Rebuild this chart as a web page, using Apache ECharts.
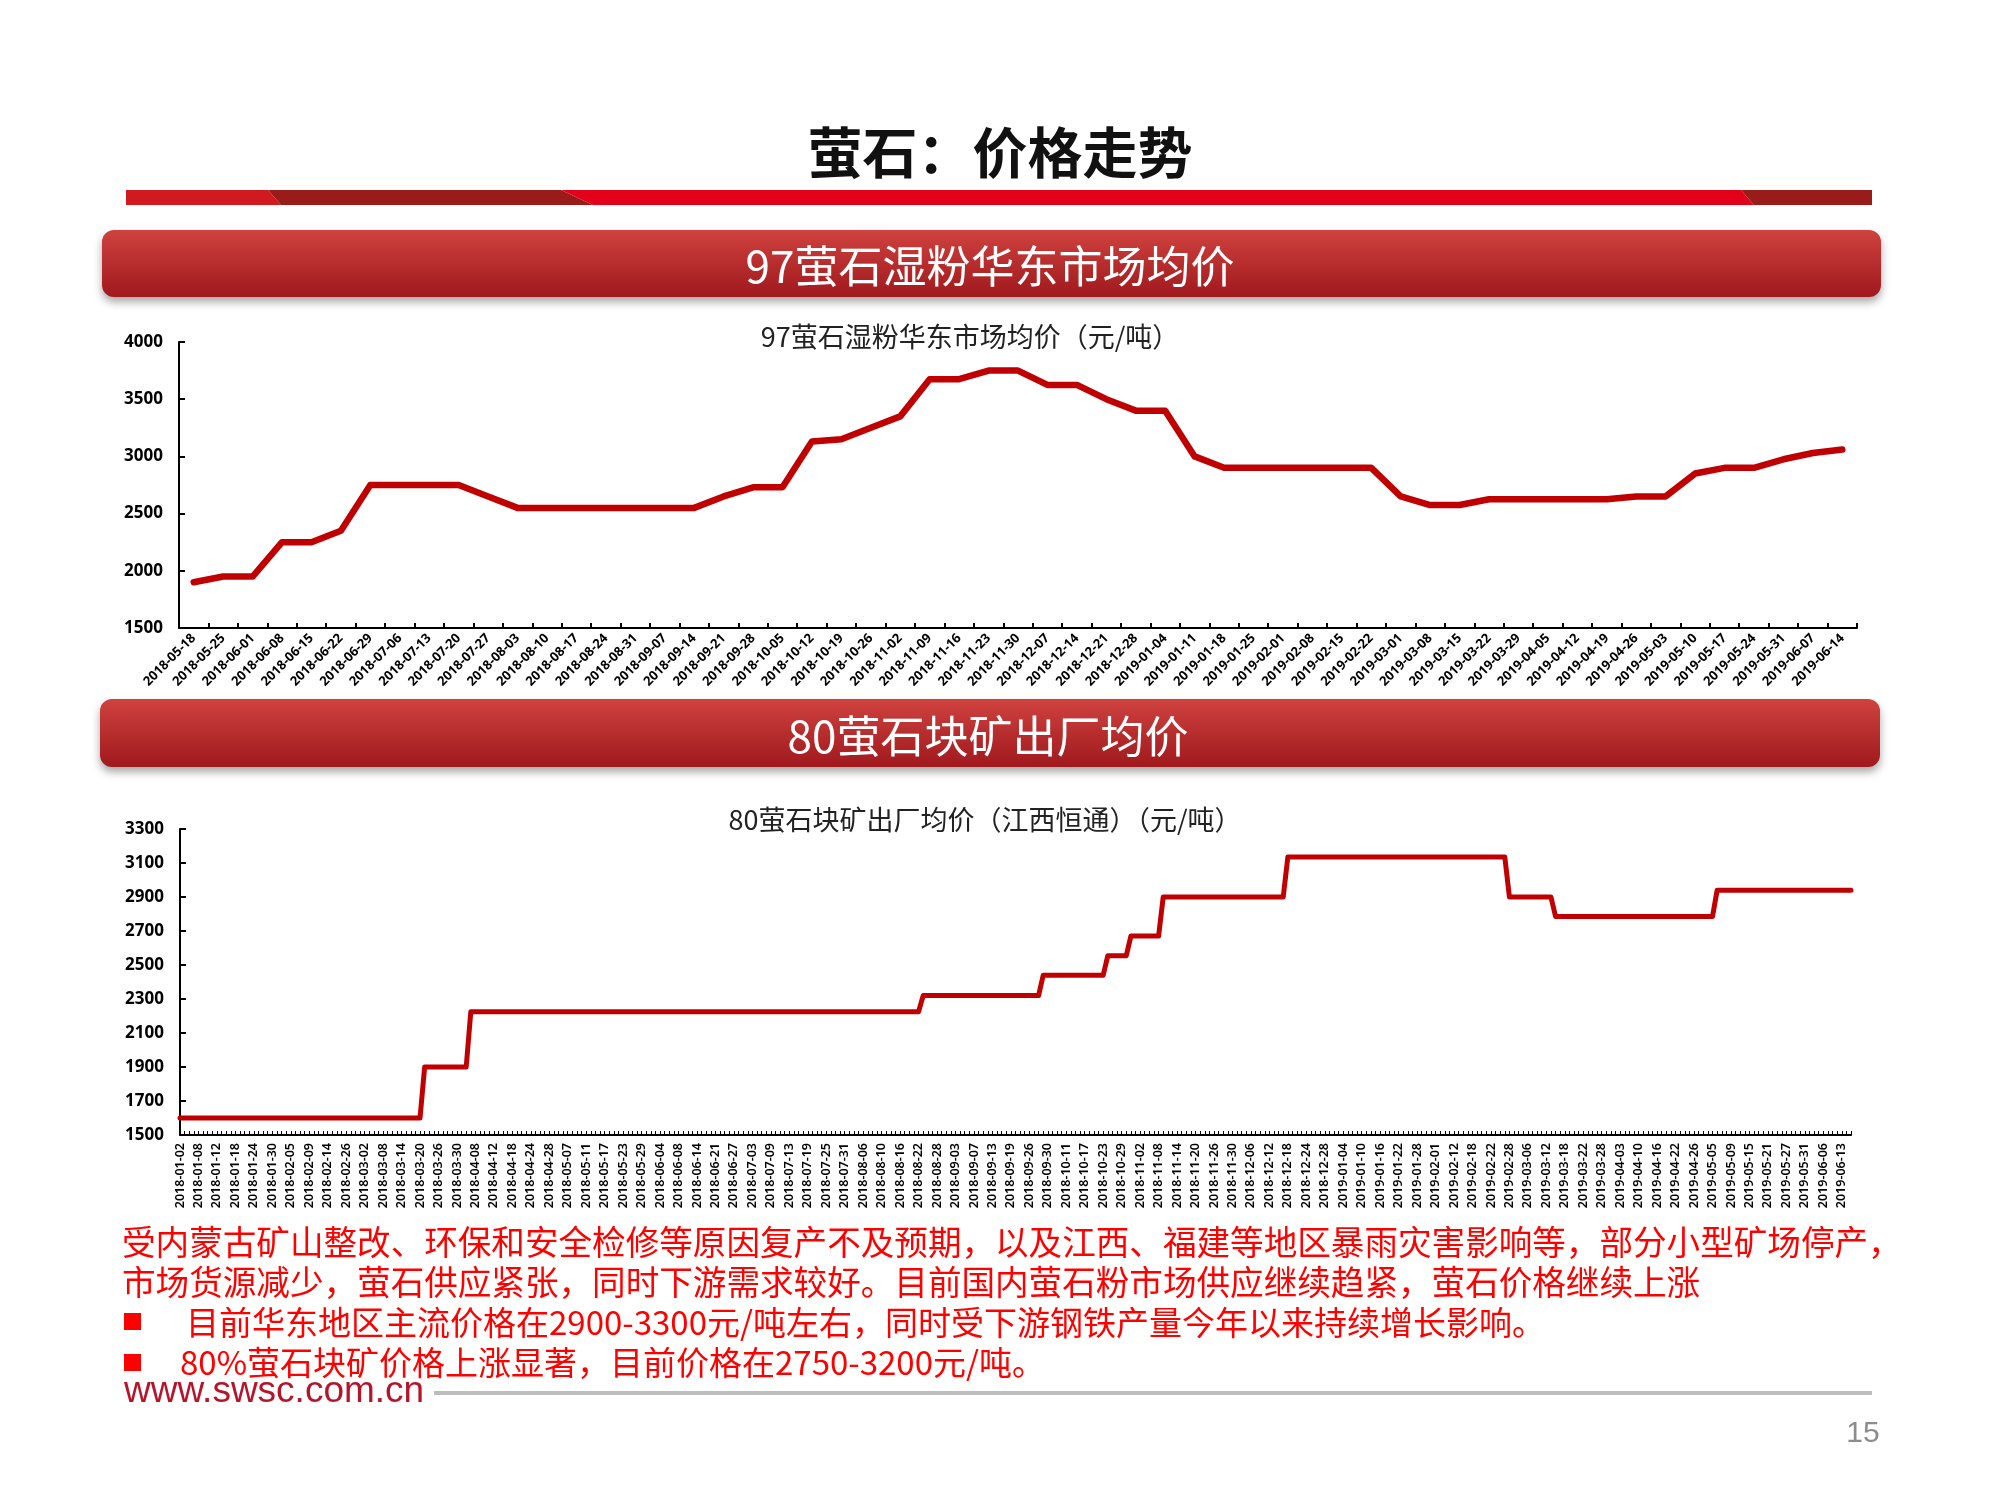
<!DOCTYPE html>
<html>
<head>
<meta charset="utf-8">
<script src="https://cdn.jsdelivr.net/npm/echarts@6/dist/echarts.min.js"></script>
<style>
html,body{margin:0;padding:0;background:#fff;}
#c{width:2000px;height:1500px;}
</style>
</head>
<body>
<div id="c"></div>
<script>
// ---------- Chart 1: 97萤石湿粉华东市场均价 (weekly) ----------
const wetPowderDates = [
  '2018-05-18','2018-05-25','2018-06-01','2018-06-08','2018-06-15','2018-06-22','2018-06-29',
  '2018-07-06','2018-07-13','2018-07-20','2018-07-27','2018-08-03','2018-08-10','2018-08-17',
  '2018-08-24','2018-08-31','2018-09-07','2018-09-14','2018-09-21','2018-09-28','2018-10-05',
  '2018-10-12','2018-10-19','2018-10-26','2018-11-02','2018-11-09','2018-11-16','2018-11-23',
  '2018-11-30','2018-12-07','2018-12-14','2018-12-21','2018-12-28','2019-01-04','2019-01-11',
  '2019-01-18','2019-01-25','2019-02-01','2019-02-08','2019-02-15','2019-02-22','2019-03-01',
  '2019-03-08','2019-03-15','2019-03-22','2019-03-29','2019-04-05','2019-04-12','2019-04-19',
  '2019-04-26','2019-05-03','2019-05-10','2019-05-17','2019-05-24','2019-05-31','2019-06-07',
  '2019-06-14'
];
const wetPowderPrices = [
  1900,1950,1950,2250,2250,2350,2750,
  2750,2750,2750,2650,2550,2550,2550,
  2550,2550,2550,2550,2650,2730,2730,
  3130,3150,3250,3350,3675,3675,3750,
  3750,3625,3625,3500,3400,3400,3000,
  2900,2900,2900,2900,2900,2900,2650,
  2575,2575,2625,2625,2625,2625,2625,
  2650,2650,2850,2900,2900,2975,3030,
  3060
];
const wetAxis = {min:1500, max:4000, interval:500};

// ---------- Chart 2: 80萤石块矿出厂均价 (working days) ----------
const workdays2018 = [
  ['01','02 03 04 05 08 09 10 11 12 15 16 17 18 19 22 23 24 25 26 29 30 31'],
  ['02','01 02 05 06 07 08 09 11 12 13 14 22 23 24 26 27 28'],
  ['03','01 02 05 06 07 08 09 12 13 14 15 16 19 20 21 22 23 26 27 28 29 30'],
  ['04','02 03 04 08 09 10 11 12 13 16 17 18 19 20 23 24 25 26 27 28'],
  ['05','02 03 04 07 08 09 10 11 14 15 16 17 18 21 22 23 24 25 28 29 30 31'],
  ['06','01 04 05 06 07 08 11 12 13 14 15 19 20 21 22 25 26 27 28 29'],
  ['07','02 03 04 05 06 09 10 11 12 13 16 17 18 19 20 23 24 25 26 27 30 31'],
  ['08','01 02 03 06 07 08 09 10 13 14 15 16 17 20 21 22 23 24 27 28 29 30 31'],
  ['09','03 04 05 06 07 10 11 12 13 14 17 18 19 20 21 25 26 27 28 29 30'],
  ['10','08 09 10 11 12 15 16 17 18 19 22 23 24 25 26 29 30 31'],
  ['11','01 02 05 06 07 08 09 12 13 14 15 16 19 20 21 22 23 26 27 28 29 30'],
  ['12','03 04 05 06 07 10 11 12 13 14 17 18 19 20 21 24 25 26 27 28 29']
];
const workdays2019 = [
  ['01','02 03 04 07 08 09 10 11 14 15 16 17 18 21 22 23 24 25 28 29 30 31'],
  ['02','01 02 03 11 12 13 14 15 18 19 20 21 22 25 26 27 28'],
  ['03','01 04 05 06 07 08 11 12 13 14 15 18 19 20 21 22 25 26 27 28 29'],
  ['04','01 02 03 04 08 09 10 11 12 15 16 17 18 19 22 23 24 25 26 28 29 30'],
  ['05','05 06 07 08 09 10 13 14 15 16 17 20 21 22 23 24 27 28 29 30 31'],
  ['06','03 04 05 06 10 11 12 13 14 17']
];
// price levels (first and last working day of each level)
const lumpOrePoints = [
  ['2018-01-02',1600],['2018-03-20',1600],
  ['2018-03-21',1900],['2018-04-03',1900],
  ['2018-04-04',2225],['2018-08-22',2225],
  ['2018-08-23',2320],['2018-09-28',2320],
  ['2018-09-29',2440],['2018-10-23',2440],
  ['2018-10-24',2555],['2018-10-30',2555],
  ['2018-10-31',2670],['2018-11-08',2670],
  ['2018-11-09',2900],['2018-12-17',2900],
  ['2018-12-18',3135],['2019-02-27',3135],
  ['2019-02-28',2900],['2019-03-13',2900],
  ['2019-03-14',2785],['2019-05-05',2785],
  ['2019-05-06',2940],['2019-06-17',2940]
];
const lumpAxis = {min:1500, max:3300, interval:200};

const lumpDates = [];
[['2018',workdays2018],['2019',workdays2019]].forEach(([y, months]) => {
  months.forEach(([m, days]) => days.split(' ').forEach(d => lumpDates.push(y + '-' + m + '-' + d)));
});

// ---------- texts ----------
const pageTitle = '萤石：价格走势';
const banner1 = '97萤石湿粉华东市场均价';
const banner2 = '80萤石块矿出厂均价';
const chart1Title = '97萤石湿粉华东市场均价（元/吨）';
const chart2Title = '80萤石块矿出厂均价（江西恒通）（元/吨）';
const bodyLines = [
  '受内蒙古矿山整改、环保和安全检修等原因复产不及预期，以及江西、福建等地区暴雨灾害影响等，部分小型矿场停产，',
  '市场货源减少，萤石供应紧张，同时下游需求较好。目前国内萤石粉市场供应继续趋紧，萤石价格继续上涨'
];
const bulletLines = [
  '目前华东地区主流价格在2900-3300元/吨左右，同时受下游钢铁产量今年以来持续增长影响。',
  '80%萤石块矿价格上涨显著，目前价格在2750-3200元/吨。'
];
const siteUrl = 'www.swsc.com.cn';
const pageNo = '15';

const CJK = '"Noto Sans CJK SC", "Noto Sans", sans-serif';
const NUM = '"Noto Sans", "Liberation Sans", sans-serif';
const RED = '#c00000';

function bannerRect(x, y, w, h) {
  return {
    type: 'rect', shape: {x: x, y: y, width: w, height: h, r: 12},
    style: {
      fill: new echarts.graphic.LinearGradient(0, 0, 0, 1, [
        {offset: 0, color: '#cf423f'}, {offset: 1, color: '#a0191d'}
      ]),
      shadowBlur: 8, shadowOffsetY: 5, shadowColor: 'rgba(0,0,0,0.35)'
    }
  };
}
function txt(text, x, y, size, fill, align, weight, family) {
  return {
    type: 'text',
    style: {
      text: text, x: x, y: y, fill: fill,
      fontSize: size, fontFamily: family || CJK, fontWeight: weight || 'normal',
      align: align || 'left', verticalAlign: 'middle'
    }
  };
}

const graphics = [
  // red stripe under the page title
  {type:'polygon', shape:{points:[[126,190],[268,190],[281,205],[126,205]]}, style:{fill:'#d11a20'}},
  {type:'polygon', shape:{points:[[268,190],[561,190],[593,205],[281,205]]}, style:{fill:'#9a1c1a'}},
  {type:'polygon', shape:{points:[[561,190],[1741,190],[1754,205],[593,205]]}, style:{fill:'#e3001b'}},
  {type:'polygon', shape:{points:[[1741,190],[1872,190],[1872,205],[1754,205]]}, style:{fill:'#9a1c1a'}},
  txt(pageTitle, 1000, 152, 55, '#111', 'center', 'bold'),
  bannerRect(102, 230, 1779, 67),
  txt(banner1, 990, 266, 44, '#fff', 'center', 'normal'),
  bannerRect(100, 699, 1780, 68),
  txt(banner2, 988, 736, 44, '#fff', 'center', 'normal'),
  txt(chart1Title, 970, 337, 27, '#222', 'center'),
  txt(chart2Title, 985, 820, 27, '#222', 'center'),
  txt(bodyLines[0], 122, 1242, 33.6, '#ff0000'),
  txt(bodyLines[1], 122, 1282, 33.6, '#ff0000'),
  {type:'rect', shape:{x:124, y:1313, width:17, height:17}, style:{fill:'#ff0000'}},
  txt(bulletLines[0], 186, 1322, 33, '#ff0000'),
  {type:'rect', shape:{x:124, y:1354, width:17, height:17}, style:{fill:'#ff0000'}},
  txt(bulletLines[1], 180, 1362, 33, '#ff0000'),
  txt(siteUrl, 124, 1392, 37, '#b5142b', 'left', 'normal', '"Liberation Sans", Arial, sans-serif'),
  {type:'rect', shape:{x:434, y:1391, width:1438, height:4}, style:{fill:'#bdbdbd'}},
  txt(pageNo, 1863, 1434, 30, '#8c8c8c', 'center', 'normal', '"Liberation Sans", Arial, sans-serif')
];

const axisLineStyle = {show:true, lineStyle:{color:'#000', width:2}};
const yLabel = {color:'#000', fontSize:17, fontWeight:'bold', fontFamily:NUM, margin:16,
  formatter: v => String(v)};

const option = {
  backgroundColor: '#fff',
  animation: false,
  graphic: graphics,
  grid: [
    {left:179, top:342, width:1678, height:286, containLabel:false},
    {left:180, top:829, width:1671, height:306, containLabel:false}
  ],
  xAxis: [
    {
      type:'category', gridIndex:0, data:wetPowderDates, boundaryGap:true,
      axisLine: axisLineStyle,
      axisTick: {show:true, inside:true, length:5, interval:0, alignWithLabel:false, lineStyle:{color:'#000', width:2}},
      axisLabel: {interval:0, rotate:45, color:'#000', fontSize:13, fontWeight:'bold', fontFamily:NUM, margin:8},
      splitLine: {show:false}
    },
    {
      type:'category', gridIndex:1, data:lumpDates, boundaryGap:false,
      axisLine: axisLineStyle,
      axisTick: {show:true, inside:true, length:4, interval:0, lineStyle:{color:'#000', width:1}},
      axisLabel: {interval:3, rotate:90, color:'#000', fontSize:12.5, fontWeight:600, fontFamily:NUM, margin:8},
      splitLine: {show:false}
    }
  ],
  yAxis: [
    {
      type:'value', gridIndex:0, min:wetAxis.min, max:wetAxis.max, interval:wetAxis.interval,
      axisLine: axisLineStyle,
      axisTick: {show:true, inside:true, length:6, lineStyle:{color:'#000', width:2}},
      axisLabel: yLabel, splitLine: {show:false}
    },
    {
      type:'value', gridIndex:1, min:lumpAxis.min, max:lumpAxis.max, interval:lumpAxis.interval,
      axisLine: axisLineStyle,
      axisTick: {show:true, inside:true, length:6, lineStyle:{color:'#000', width:2}},
      axisLabel: yLabel, splitLine: {show:false}
    }
  ],
  series: [
    {
      type:'line', xAxisIndex:0, yAxisIndex:0, data:wetPowderPrices,
      showSymbol:false, symbol:'none',
      lineStyle:{color:RED, width:6.5, cap:'round', join:'round'}, itemStyle:{color:RED}
    },
    {
      type:'line', xAxisIndex:1, yAxisIndex:1, data:lumpOrePoints,
      showSymbol:false, symbol:'none',
      lineStyle:{color:RED, width:5, cap:'round', join:'round'}, itemStyle:{color:RED}
    }
  ]
};

const chart = echarts.init(document.getElementById('c'), null, {renderer:'canvas', width:2000, height:1500});
chart.setOption(option);
</script>
</body>
</html>
